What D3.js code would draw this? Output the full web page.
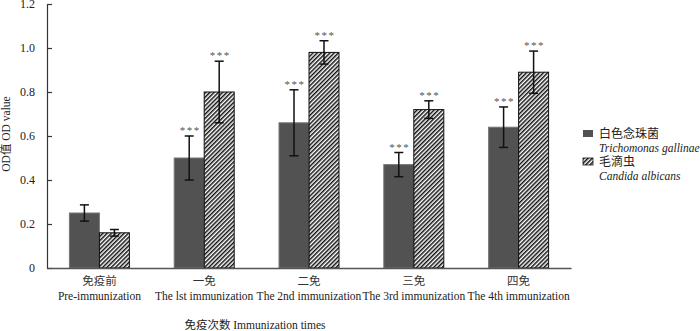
<!DOCTYPE html>
<html>
<head>
<meta charset="utf-8">
<script src="https://cdn.jsdelivr.net/npm/d3@7"></script>
<style>
  body { margin: 0; background: #fff; }
  text { font-family: "Liberation Serif", "Noto Sans CJK SC", serif; }
</style>
</head>
<body>
<script>
var w = 700; // canvas width
var h = 331; // canvas height

// data
var categoriesCn = ["免疫前", "一免", "二免", "三免", "四免"];
var categoriesEn = ["Pre-immunization", "The lst immunization", "The 2nd immunization", "The 3rd immunization", "The 4th immunization"];
var seriesNames = ["白色念珠菌", "毛滴虫"];
var seriesLatin = ["Trichomonas gallinae", "Candida albicans"];
var darkValues = [0.25, 0.50, 0.66, 0.47, 0.64];
var darkErrors = [0.037, 0.10, 0.15, 0.055, 0.092];
var hatchValues = [0.16, 0.80, 0.98, 0.72, 0.89];
var hatchErrors = [0.015, 0.14, 0.053, 0.04, 0.096];
var darkStars = [false, true, true, true, true];
var hatchStars = [false, true, true, true, true];
var yTicks = [0, 0.2, 0.4, 0.6, 0.8, 1.0, 1.2];

var plotLeft = 47, plotRight = 571, plotTop = 4, plotBottom = 268;
var barW = 30;

var x = d3.scaleBand()
    .domain(d3.range(categoriesCn.length))
    .range([plotLeft, plotRight])
    .padding(0);

var y = d3.scaleLinear()
    .domain([0, 1.2])
    .range([plotBottom, plotTop]);

var svg = d3.select("body").append("svg")
    .attr("width", w)
    .attr("height", h);

// hatch pattern
var defs = svg.append("defs");
defs.append("pattern")
    .attr("id", "hatch")
    .attr("patternUnits", "userSpaceOnUse")
    .attr("width", 3)
    .attr("height", 3)
    .attr("patternTransform", "rotate(45)")
  .append("line")
    .attr("x1", 0.75).attr("y1", 0)
    .attr("x2", 0.75).attr("y2", 3)
    .attr("stroke", "#111")
    .attr("stroke-width", 1.5);

// build bar records
var bars = [];
categoriesCn.forEach(function(c, i) {
    bars.push({i: i, s: 0, v: darkValues[i], e: darkErrors[i], star: darkStars[i]});
    bars.push({i: i, s: 1, v: hatchValues[i], e: hatchErrors[i], star: hatchStars[i]});
});
function barX(d) {
    var c = x(d.i) + x.bandwidth() / 2;
    return d.s === 0 ? c - barW : c;
}

svg.selectAll("rect.bar")
    .data(bars)
    .enter()
    .append("rect")
    .attr("class", "bar")
    .attr("x", barX)
    .attr("y", function(d) { return y(d.v); })
    .attr("width", barW)
    .attr("height", function(d) { return y(0) - y(d.v); })
    .attr("fill", function(d) { return d.s === 0 ? "#525252" : "url(#hatch)"; })
    .attr("stroke", function(d) { return d.s === 0 ? "#777" : "#111"; })
    .attr("stroke-width", 1);

// error bars
var eb = svg.selectAll("g.err")
    .data(bars)
    .enter()
    .append("g")
    .attr("class", "err")
    .attr("stroke", "#111")
    .attr("stroke-width", 1.5);
eb.append("line")
    .attr("x1", function(d) { return barX(d) + barW / 2; })
    .attr("x2", function(d) { return barX(d) + barW / 2; })
    .attr("y1", function(d) { return y(d.v + d.e); })
    .attr("y2", function(d) { return y(d.v - d.e); });
eb.append("line")
    .attr("x1", function(d) { return barX(d) + barW / 2 - 4.5; })
    .attr("x2", function(d) { return barX(d) + barW / 2 + 4.5; })
    .attr("y1", function(d) { return y(d.v + d.e); })
    .attr("y2", function(d) { return y(d.v + d.e); });
eb.append("line")
    .attr("x1", function(d) { return barX(d) + barW / 2 - 4.5; })
    .attr("x2", function(d) { return barX(d) + barW / 2 + 4.5; })
    .attr("y1", function(d) { return y(d.v - d.e); })
    .attr("y2", function(d) { return y(d.v - d.e); });

// significance stars
svg.selectAll("text.star")
    .data(bars.filter(function(d) { return d.star; }))
    .enter()
    .append("text")
    .attr("class", "star")
    .attr("x", function(d) { return barX(d) + barW / 2 + 1; })
    .attr("y", function(d) { return y(d.v + d.e) - 2; })
    .attr("text-anchor", "middle")
    .attr("font-size", 11)
    .attr("letter-spacing", 1.5)
    .attr("fill", "#555")
    .text("***");

// y axis
var yAxis = d3.axisLeft(y)
    .tickValues(yTicks)
    .tickSizeInner(-5)
    .tickSizeOuter(0)
    .tickPadding(12)
    .tickFormat(function(d) { return d === 0 ? "0" : d3.format(".1f")(d); });
var gy = svg.append("g")
    .attr("transform", "translate(" + plotLeft + ",0)")
    .call(yAxis);
gy.select(".domain").attr("stroke", "#333").attr("stroke-width", 1.2);
gy.selectAll(".tick line").attr("stroke", "#333").attr("stroke-width", 1.2);
gy.selectAll(".tick text")
    .attr("font-size", 12)
    .attr("fill", "#222");

// x axis line
var xAxis = d3.axisBottom(x).tickSize(0).tickFormat("");
var gx = svg.append("g")
    .attr("transform", "translate(0," + plotBottom + ")")
    .call(xAxis);
gx.select(".domain").attr("stroke", "#555").attr("stroke-width", 1.5);

// category labels
svg.selectAll("text.cn")
    .data(categoriesCn)
    .enter()
    .append("text")
    .attr("class", "cn")
    .attr("x", function(d, i) { return x(i) + x.bandwidth() / 2; })
    .attr("y", 285)
    .attr("text-anchor", "middle")
    .attr("font-size", 11.5)
    .attr("fill", "#333")
    .text(function(d) { return d; });
svg.selectAll("text.en")
    .data(categoriesEn)
    .enter()
    .append("text")
    .attr("class", "en")
    .attr("x", function(d, i) { return x(i) + x.bandwidth() / 2; })
    .attr("y", 300)
    .attr("text-anchor", "middle")
    .attr("font-size", 11.5)
    .attr("fill", "#222")
    .text(function(d) { return d; });

// axis titles
svg.append("text")
    .attr("x", 255)
    .attr("y", 329)
    .attr("text-anchor", "middle")
    .attr("font-size", 11.5)
    .attr("fill", "#222")
    .text("免疫次数 Immunization times");

svg.append("text")
    .attr("transform", "translate(10,134) rotate(-90)")
    .attr("text-anchor", "middle")
    .attr("font-size", 11.5)
    .attr("fill", "#222")
    .text("OD值 OD value");

// legend
var legend = svg.selectAll("g.legend")
    .data(seriesNames)
    .enter()
    .append("g")
    .attr("class", "legend")
    .attr("transform", function(d, i) { return "translate(583," + (130 + i * 28) + ")"; });
legend.append("rect")
    .attr("width", 10)
    .attr("height", 7)
    .attr("fill", function(d, i) { return i === 0 ? "#525252" : "url(#hatch)"; })
    .attr("stroke", function(d, i) { return i === 0 ? "none" : "#111"; })
    .attr("stroke-width", 0.8);
legend.append("text")
    .attr("x", 16)
    .attr("y", 8)
    .attr("font-size", 12)
    .attr("fill", "#222")
    .text(function(d) { return d; });
legend.append("text")
    .attr("x", 16)
    .attr("y", 22)
    .attr("font-size", 11.5)
    .attr("font-style", "italic")
    .attr("fill", "#222")
    .text(function(d, i) { return seriesLatin[i]; });
</script>
</body>
</html>
